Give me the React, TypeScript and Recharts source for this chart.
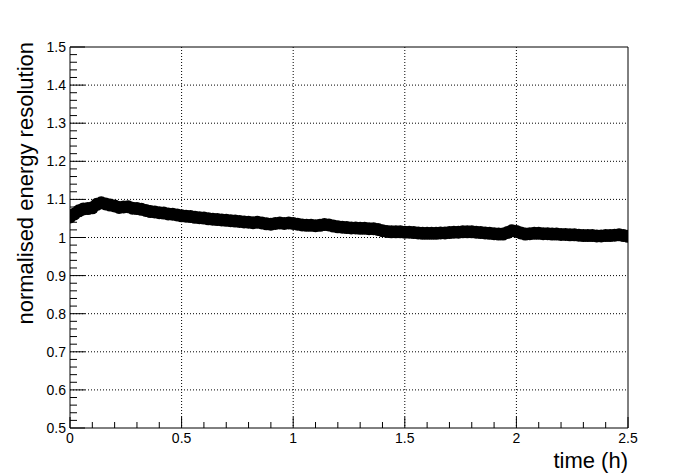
import React from 'react'
import {
  ScatterChart,
  Scatter,
  XAxis,
  YAxis,
  CartesianGrid,
  ReferenceLine,
  Label,
} from 'recharts'

// time (h), sampled every 0.02 h
const times = [
  0.0, 0.02, 0.04, 0.06, 0.08, 0.1, 0.12, 0.14, 0.16, 0.18,
  0.2, 0.22, 0.24, 0.26, 0.28, 0.3, 0.32, 0.34, 0.36, 0.38,
  0.4, 0.42, 0.44, 0.46, 0.48, 0.5, 0.52, 0.54, 0.56, 0.58,
  0.6, 0.62, 0.64, 0.66, 0.68, 0.7, 0.72, 0.74, 0.76, 0.78,
  0.8, 0.82, 0.84, 0.86, 0.88, 0.9, 0.92, 0.94, 0.96, 0.98,
  1.0, 1.02, 1.04, 1.06, 1.08, 1.1, 1.12, 1.14, 1.16, 1.18,
  1.2, 1.22, 1.24, 1.26, 1.28, 1.3, 1.32, 1.34, 1.36, 1.38,
  1.4, 1.42, 1.44, 1.46, 1.48, 1.5, 1.52, 1.54, 1.56, 1.58,
  1.6, 1.62, 1.64, 1.66, 1.68, 1.7, 1.72, 1.74, 1.76, 1.78,
  1.8, 1.82, 1.84, 1.86, 1.88, 1.9, 1.92, 1.94, 1.96, 1.98,
  2.0, 2.02, 2.04, 2.06, 2.08, 2.1, 2.12, 2.14, 2.16, 2.18,
  2.2, 2.22, 2.24, 2.26, 2.28, 2.3, 2.32, 2.34, 2.36, 2.38,
  2.4, 2.42, 2.44, 2.46, 2.48, 2.5,
]

// normalised energy resolution
const resolution = [
  1.054, 1.062, 1.07, 1.075, 1.076, 1.078, 1.087, 1.091, 1.088, 1.085,
  1.083, 1.079, 1.08, 1.081, 1.077, 1.076, 1.074, 1.071, 1.068, 1.067,
  1.065, 1.064, 1.062, 1.061, 1.059, 1.057, 1.056, 1.055, 1.053, 1.052,
  1.051, 1.049, 1.048, 1.047, 1.046, 1.045, 1.044, 1.043, 1.042, 1.041,
  1.04, 1.039, 1.04, 1.038, 1.036, 1.035, 1.037, 1.038, 1.037, 1.038,
  1.037, 1.035, 1.033, 1.032, 1.032, 1.031, 1.032, 1.034, 1.033, 1.03,
  1.028, 1.027, 1.026, 1.025, 1.025, 1.024, 1.024, 1.023, 1.023, 1.021,
  1.018, 1.016, 1.015, 1.015, 1.015, 1.014, 1.014, 1.013, 1.012, 1.011,
  1.011, 1.011, 1.011, 1.012, 1.012, 1.013, 1.014, 1.014, 1.015, 1.015,
  1.015, 1.014, 1.013, 1.012, 1.011, 1.01, 1.009, 1.009, 1.013, 1.018,
  1.016, 1.012, 1.009, 1.01, 1.011, 1.011, 1.01, 1.01, 1.009, 1.009,
  1.008, 1.008, 1.007, 1.007, 1.006, 1.005, 1.005, 1.005, 1.004, 1.004,
  1.005, 1.005, 1.006, 1.007, 1.005, 1.003,
]

const xMajorTicks = [0, 0.5, 1, 1.5, 2, 2.5]
const yMajorTicks = [0.5, 0.6, 0.7, 0.8, 0.9, 1, 1.1, 1.2, 1.3, 1.4, 1.5]

// ROOT style: 5 divisions per major step on both axes
function withMinor(majors: number[], div: number) {
  const out: number[] = []
  for (let i = 0; i < majors.length - 1; i++) {
    const step = (majors[i + 1] - majors[i]) / div
    for (let k = 0; k < div; k++) out.push(+(majors[i] + k * step).toFixed(4))
  }
  out.push(majors[majors.length - 1])
  return out
}

const xTicks = withMinor(xMajorTicks, 5)
const yTicks = withMinor(yMajorTicks, 5)

const data = times.map((t, i) => ({ t, v: resolution[i] }))

const FONT = '"Liberation Sans", Arial, Helvetica, sans-serif'

const isMajor = (v: number, majors: number[]) => majors.some(m => Math.abs(m - v) < 1e-6)

function YTick(props: any) {
  const { x, y, payload } = props
  const major = isMajor(payload.value, yMajorTicks)
  return (
    <g>
      <line x1={x} y1={y} x2={x + (major ? 15 : 7)} y2={y} stroke="#000" />
      {major && (
        <text x={x - 4} y={y + 5} textAnchor="end" fontSize={14} fontFamily={FONT} fill="#000">
          {String(payload.value)}
        </text>
      )}
    </g>
  )
}

function XTick(props: any) {
  const { x, y, payload } = props
  const major = isMajor(payload.value, xMajorTicks)
  return (
    <g>
      <line x1={x} y1={y} x2={x} y2={y - (major ? 11 : 6)} stroke="#000" />
      {major && (
        <text x={x} y={y + 15} textAnchor="middle" fontSize={14} fontFamily={FONT} fill="#000">
          {String(payload.value)}
        </text>
      )}
    </g>
  )
}

const Marker = (props: any) => <circle cx={props.cx} cy={props.cy} r={6.5} fill="#000" />

export default function App() {
  return (
    <div style={{ width: 698, height: 476, background: '#fff' }}>
      <style>{'body{margin:0}'}</style>
      <ScatterChart width={698} height={476} margin={{ top: 47, right: 70, bottom: 18, left: 10 }}>
        <CartesianGrid
          stroke="#000"
          strokeDasharray="1 2"
          horizontalValues={yMajorTicks.slice(1, -1)}
          verticalValues={xMajorTicks.slice(1, -1)}
        />
        <XAxis
          dataKey="t"
          type="number"
          domain={[0, 2.5]}
          ticks={xTicks}
          interval={0}
          tickSize={0}
          tickMargin={0}
          tickLine={false}
          tick={<XTick />}
          axisLine={{ stroke: '#000' }}
          height={30}
          allowDataOverflow
        >
          <Label
            content={() => (
              <text x={628} y={468} textAnchor="end" fontSize={22} fontFamily={FONT} fill="#000">
                time (h)
              </text>
            )}
          />
        </XAxis>
        <YAxis
          dataKey="v"
          type="number"
          domain={[0.5, 1.5]}
          ticks={yTicks}
          interval={0}
          tickSize={0}
          tickMargin={0}
          tickLine={false}
          tick={<YTick />}
          axisLine={{ stroke: '#000' }}
          width={60}
          allowDataOverflow
        >
          <Label
            content={() => (
              <text
                x={33}
                y={42}
                transform="rotate(-90 33 42)"
                textAnchor="end"
                fontSize={22}
                fontFamily={FONT}
                fill="#000"
              >
                normalised energy resolution
              </text>
            )}
          />
        </YAxis>
        <ReferenceLine y={1.5} stroke="#000" />
        <ReferenceLine x={2.5} stroke="#000" />
        <Scatter data={data} fill="#000" shape={Marker} isAnimationActive={false} />
      </ScatterChart>
    </div>
  )
}
